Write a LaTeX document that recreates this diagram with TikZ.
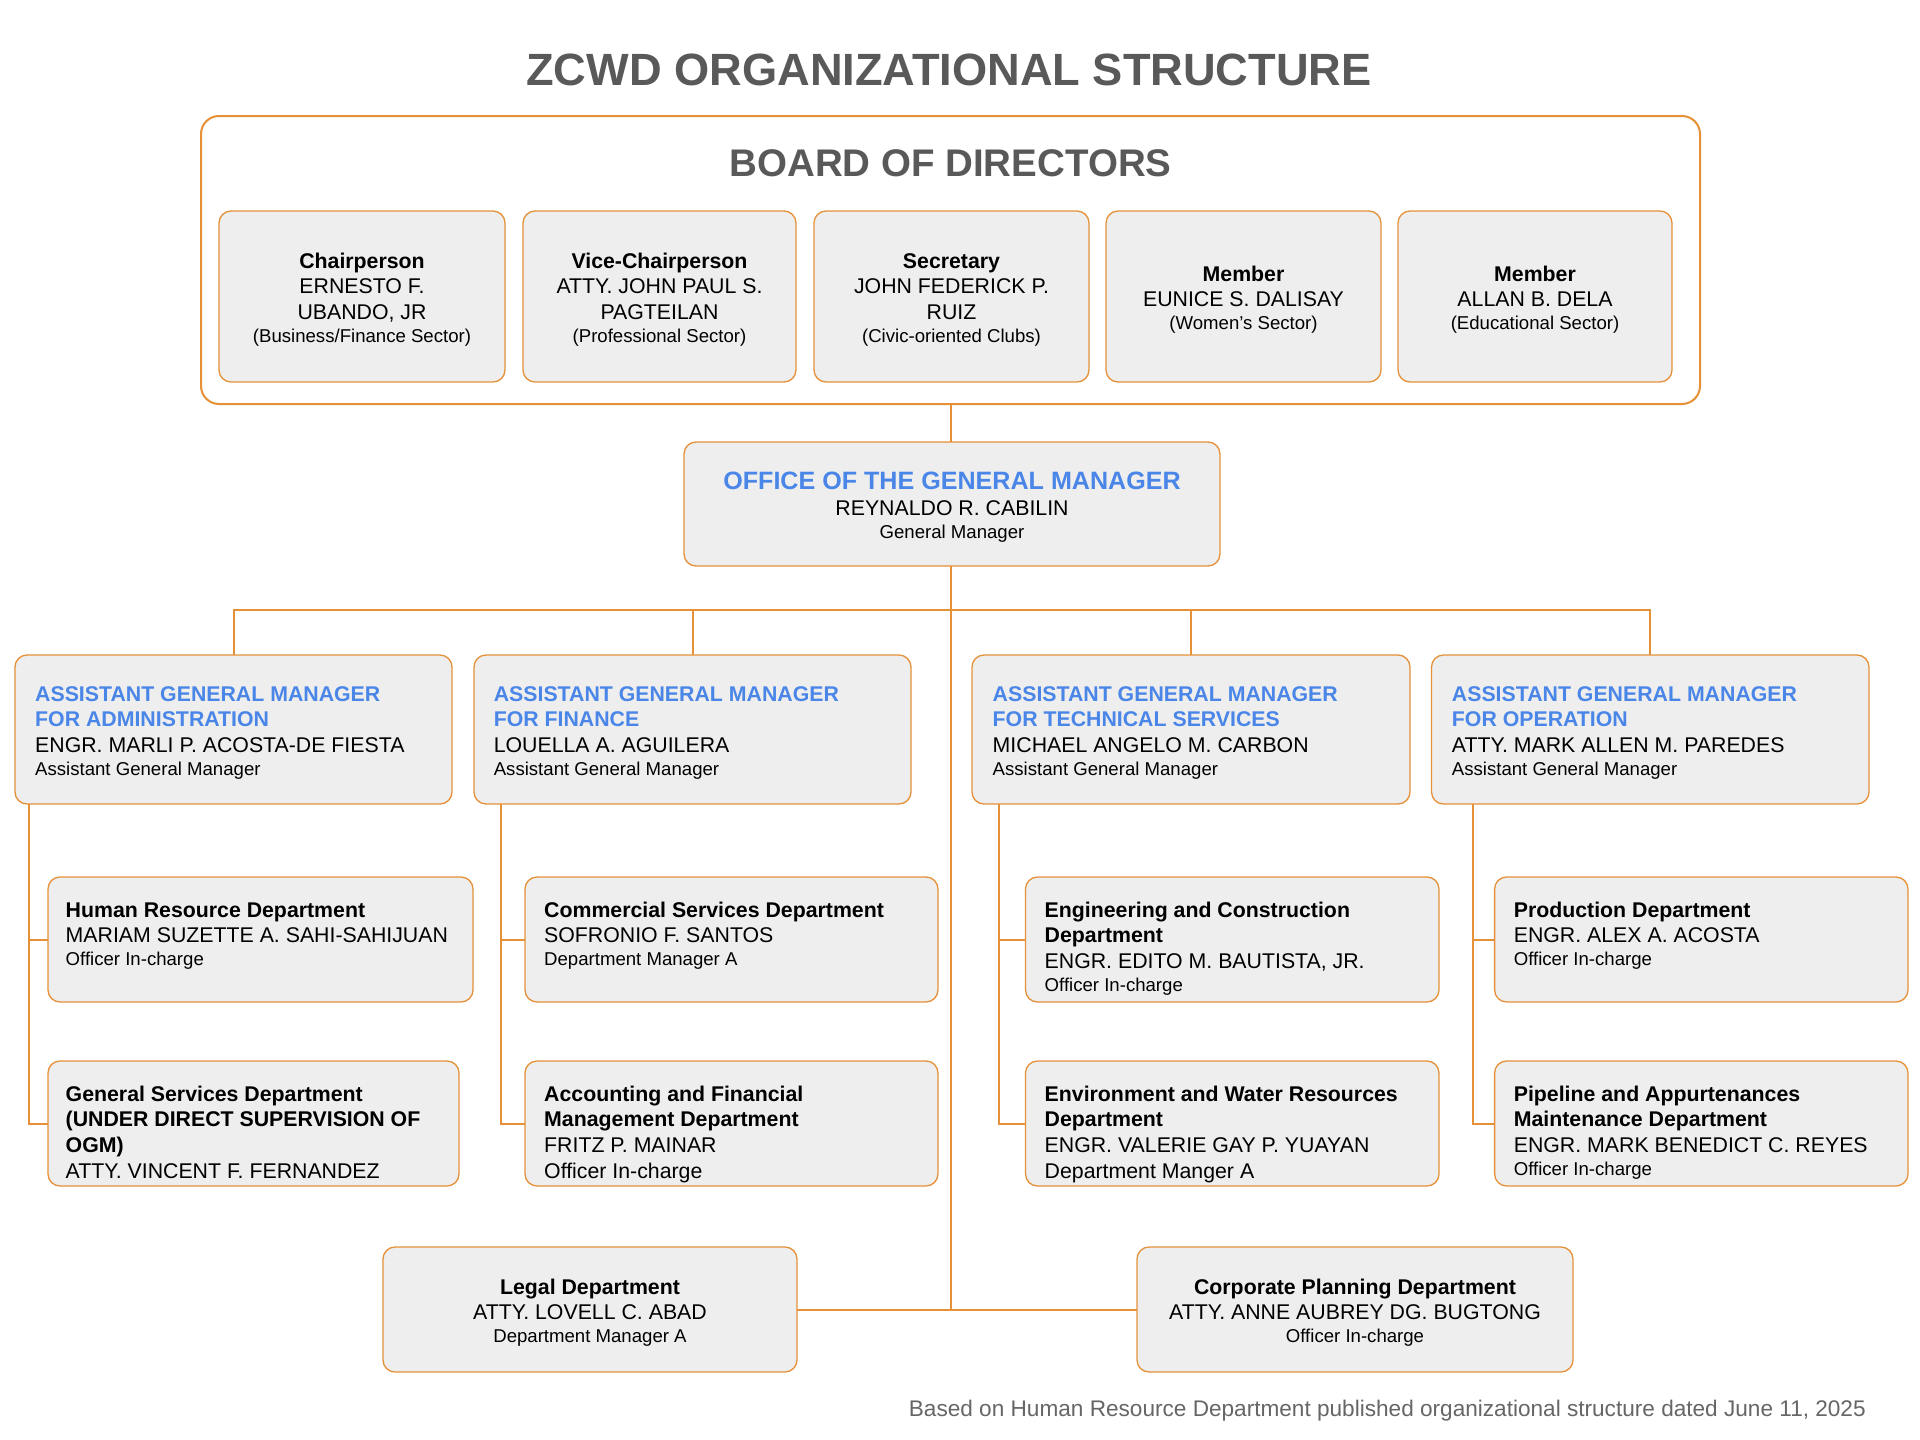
\documentclass[tikz,border=0pt]{standalone}
\usepackage{fontspec}
\setmainfont{Liberation Sans}
\definecolor{org}{HTML}{E69138}
\definecolor{boxfill}{HTML}{EEEEEE}
\definecolor{agmblue}{HTML}{4A86E8}
\definecolor{titlegray}{HTML}{595959}
\definecolor{footgray}{HTML}{666666}
\newcommand\fmain{\fontsize{21.3}{25.7}\selectfont}
\newcommand\fsm{\fontsize{18.6}{23}\selectfont}
\newcommand\fogm{\fontsize{25.1}{30}\selectfont\bfseries\color{agmblue}}
\newcommand\agmh[1]{{\bfseries\color{agmblue}#1}}
\tikzset{
  orgbox/.style={draw=org, line width=1.3pt, fill=boxfill, rounded corners=12pt, inner sep=0pt, outer sep=0pt},
  boardframe/.style={draw=org, line width=2pt, rounded corners=18pt, inner sep=0pt, outer sep=0pt},
  link/.style={draw=org, line width=2pt},
  ltext/.style={anchor=base west, align=left, inner sep=0pt, font=\fmain},
  ctext/.style={anchor=base, align=center, inner sep=0pt, font=\fmain},
}
\begin{document}
\begin{tikzpicture}[x=1pt,y=-1pt]
\useasboundingbox[fill=white] (0,0) rectangle (1920,1440);

% titles
\node[anchor=base, inner sep=0pt, font=\fontsize{45.2}{54}\selectfont\bfseries, text=titlegray] (title) at (949,85.5) {ZCWD ORGANIZATIONAL STRUCTURE};

% board
\node[boardframe, minimum width=1499pt, minimum height=288pt] (board) at (950.5,260) {};
\node[anchor=base, inner sep=0pt, font=\fontsize{38.5}{46}\selectfont\bfseries, text=titlegray] (boardtitle) at (950.5,176) {BOARD OF DIRECTORS};

\node[orgbox, minimum width=286pt, minimum height=171pt] (chair) at (362,296.5) {};
\node[orgbox, minimum width=273pt, minimum height=171pt] (vice) at (659.5,296.5) {};
\node[orgbox, minimum width=275pt, minimum height=171pt] (sec) at (951.5,296.5) {};
\node[orgbox, minimum width=275pt, minimum height=171pt] (mem1) at (1243.5,296.5) {};
\node[orgbox, minimum width=274pt, minimum height=171pt] (mem2) at (1535,296.5) {};

% (text nodes are anchored at the baseline of their last line)
\node[ctext] (t-chair) at (362,342.4) {\textbf{Chairperson}\\ERNESTO F.\\UBANDO, JR\\[-2.7pt]{\fsm (Business/Finance Sector)}};
\node[ctext] (t-vice) at (659.5,342.4) {\textbf{Vice-Chairperson}\\ATTY. JOHN PAUL S.\\PAGTEILAN\\[-2.7pt]{\fsm (Professional Sector)}};
\node[ctext] (t-sec) at (951.5,342.4) {\textbf{Secretary}\\JOHN FEDERICK P.\\RUIZ\\[-2.7pt]{\fsm (Civic-oriented Clubs)}};
\node[ctext] (t-mem1) at (1243.5,329.7) {\textbf{Member}\\EUNICE S. DALISAY\\[-2.7pt]{\fsm (Women’s Sector)}};
\node[ctext] (t-mem2) at (1535,329.7) {\textbf{Member}\\ALLAN B. DELA\\[-2.7pt]{\fsm (Educational Sector)}};

% general manager
\node[orgbox, minimum width=536pt, minimum height=124pt] (ogm) at (952,504) {};
\node[ctext] (t-ogm) at (952,538) {{\fogm OFFICE OF THE GENERAL MANAGER}\\[0.8pt]REYNALDO R. CABILIN\\[-3.2pt]{\fsm General Manager}};

% assistant general managers
\node[orgbox, minimum width=437pt, minimum height=149pt] (agm1) at (233.5,729.5) {};
\node[orgbox, minimum width=437pt, minimum height=149pt] (agm2) at (692.5,729.5) {};
\node[orgbox, minimum width=438pt, minimum height=149pt] (agm3) at (1191,729.5) {};
\node[orgbox, minimum width=437.5pt, minimum height=149pt] (agm4) at (1650.25,729.5) {};

\node[ltext] (t-agm1) at (35,775.4) {\agmh{ASSISTANT GENERAL MANAGER}\\\agmh{FOR ADMINISTRATION}\\ENGR. MARLI P. ACOSTA-DE FIESTA\\[-2.7pt]{\fsm Assistant General Manager}};
\node[ltext] (t-agm2) at (493.6,775.4) {\agmh{ASSISTANT GENERAL MANAGER}\\\agmh{FOR FINANCE}\\LOUELLA A. AGUILERA\\[-2.7pt]{\fsm Assistant General Manager}};
\node[ltext] (t-agm3) at (992.5,775.4) {\agmh{ASSISTANT GENERAL MANAGER}\\\agmh{FOR TECHNICAL SERVICES}\\MICHAEL ANGELO M. CARBON\\[-2.7pt]{\fsm Assistant General Manager}};
\node[ltext] (t-agm4) at (1451.7,775.4) {\agmh{ASSISTANT GENERAL MANAGER}\\\agmh{FOR OPERATION}\\ATTY. MARK ALLEN M. PAREDES\\[-2.7pt]{\fsm Assistant General Manager}};

% departments
\node[orgbox, minimum width=425pt, minimum height=125pt] (hr) at (260.5,939.5) {};
\node[orgbox, minimum width=411pt, minimum height=125pt] (gs) at (253.5,1123.5) {};
\node[orgbox, minimum width=413pt, minimum height=125pt] (com) at (731.5,939.5) {};
\node[orgbox, minimum width=413pt, minimum height=125pt] (acc) at (731.5,1123.5) {};
\node[orgbox, minimum width=413.5pt, minimum height=125pt] (eng) at (1232.25,939.5) {};
\node[orgbox, minimum width=413.5pt, minimum height=125pt] (env) at (1232.25,1123.5) {};
\node[orgbox, minimum width=413.4pt, minimum height=125pt] (prod) at (1701.3,939.5) {};
\node[orgbox, minimum width=413.4pt, minimum height=125pt] (pipe) at (1701.3,1123.5) {};

\node[ltext] (t-hr) at (65.5,965.7) {\textbf{Human Resource Department}\\MARIAM SUZETTE A. SAHI-SAHIJUAN\\[-2.7pt]{\fsm Officer In-charge}};
\node[ltext] (t-gs) at (65.5,1178.1) {\textbf{General Services Department}\\\textbf{(UNDER DIRECT SUPERVISION OF}\\\textbf{OGM)}\\ATTY. VINCENT F. FERNANDEZ};
\node[ltext] (t-com) at (544,965.7) {\textbf{Commercial Services Department}\\SOFRONIO F. SANTOS\\[-2.7pt]{\fsm Department Manager A}};
\node[ltext] (t-acc) at (544,1178.1) {\textbf{Accounting and Financial}\\\textbf{Management Department}\\FRITZ P. MAINAR\\Officer In-charge};
\node[ltext] (t-eng) at (1044.5,991.4) {\textbf{Engineering and Construction}\\\textbf{Department}\\ENGR. EDITO M. BAUTISTA, JR.\\[-2.7pt]{\fsm Officer In-charge}};
\node[ltext] (t-env) at (1044.5,1178.1) {\textbf{Environment and Water Resources}\\\textbf{Department}\\ENGR. VALERIE GAY P. YUAYAN\\Department Manger A};
\node[ltext] (t-prod) at (1513.6,965.7) {\textbf{Production Department}\\ENGR. ALEX A. ACOSTA\\[-2.7pt]{\fsm Officer In-charge}};
\node[ltext] (t-pipe) at (1513.6,1175.4) {\textbf{Pipeline and Appurtenances}\\\textbf{Maintenance Department}\\ENGR. MARK BENEDICT C. REYES\\[-2.7pt]{\fsm Officer In-charge}};

% bottom row
\node[orgbox, minimum width=414pt, minimum height=125pt] (legal) at (590,1309.5) {};
\node[orgbox, minimum width=436pt, minimum height=125pt] (corp) at (1355,1309.5) {};
\node[ctext] (t-legal) at (590,1342.7) {\textbf{Legal Department}\\ATTY. LOVELL C. ABAD\\[-2.7pt]{\fsm Department Manager A}};
\node[ctext] (t-corp) at (1355,1342.7) {\textbf{Corporate Planning Department}\\ATTY. ANNE AUBREY DG. BUGTONG\\[-2.7pt]{\fsm Officer In-charge}};

% footer
\node[anchor=base east, inner sep=0pt, font=\fontsize{22.6}{27}\selectfont, text=footgray] (footer) at (1866,1416) {Based on Human Resource Department published organizational structure dated June 11, 2025};

% connectors
\coordinate (bus) at (951,610);
\coordinate (sp1) at (29.4,0);
\coordinate (sp2) at (501,0);
\coordinate (sp3) at (998.5,0);
\coordinate (sp4) at (1473,0);
\draw[link] (board.south -| bus) -- (ogm.north -| bus);
\draw[link] (ogm.south -| bus) -- (legal.east -| bus);
\draw[link] (legal.east) -- (corp.west);
\draw[link] (agm1.north) |- (bus) -| (agm4.north);
\draw[link] (agm2.north) -- (agm2.north |- bus);
\draw[link] (agm3.north) -- (agm3.north |- bus);
\draw[link] (agm1.south -| sp1) |- (gs.west);
\draw[link] (hr.west -| sp1) -- (hr.west);
\draw[link] (agm2.south -| sp2) |- (acc.west);
\draw[link] (com.west -| sp2) -- (com.west);
\draw[link] (agm3.south -| sp3) |- (env.west);
\draw[link] (eng.west -| sp3) -- (eng.west);
\draw[link] (agm4.south -| sp4) |- (pipe.west);
\draw[link] (prod.west -| sp4) -- (prod.west);
\end{tikzpicture}
\end{document}
